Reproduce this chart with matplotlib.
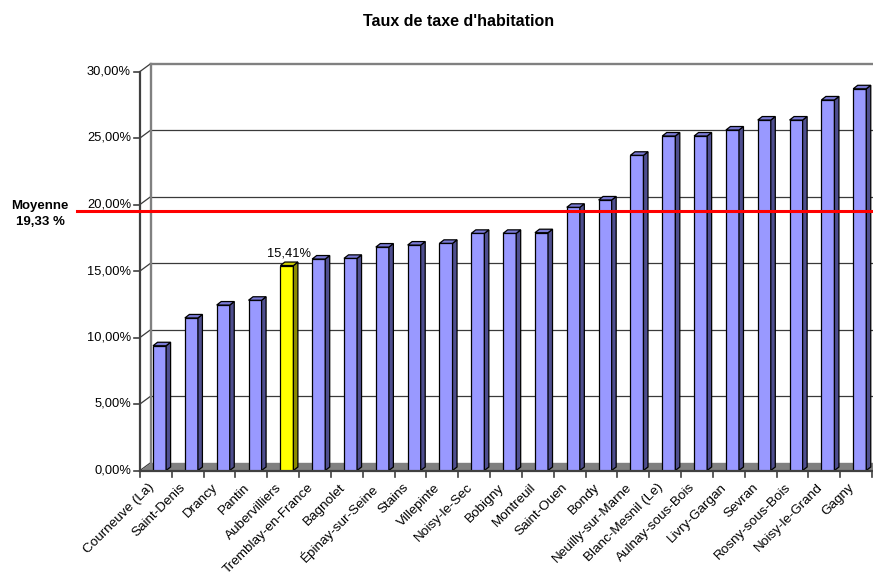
import matplotlib
matplotlib.use("Agg")
import matplotlib.pyplot as plt
import matplotlib.transforms as mtransforms
from matplotlib.patches import Polygon

plt.rcParams["font.family"] = ["Liberation Sans", "DejaVu Sans"]

# ---------------- data ----------------
communes = ["Courneuve (La)", "Saint-Denis", "Drancy", "Pantin", "Aubervilliers",
            "Tremblay-en-France", "Bagnolet", "Épinay-sur-Seine", "Stains", "Villepinte",
            "Noisy-le-Sec", "Bobigny", "Montreuil", "Saint-Ouen", "Bondy",
            "Neuilly-sur-Marne", "Blanc-Mesnil (Le)", "Aulnay-sous-Bois", "Livry-Gargan",
            "Sevran", "Rosny-sous-Bois", "Noisy-le-Grand", "Gagny"]
taux = [9.38, 11.47, 12.44, 12.80, 15.41, 15.90, 15.95, 16.80, 16.95, 17.08,
        17.83, 17.83, 17.88, 19.79, 20.34, 23.70, 25.15, 25.15, 25.60,
        26.35, 26.35, 27.86, 28.70]
highlight = "Aubervilliers"
moyenne = 19.33
yticks = [0, 5, 10, 15, 20, 25, 30]
ytick_labels = ["0,00%", "5,00%", "10,00%", "15,00%", "20,00%", "25,00%", "30,00%"]
title = "Taux de taxe d'habitation"

# ---------------- layout ----------------
W, H = 873, 577
fig = plt.figure(figsize=(W / 100, H / 100), dpi=100)
x0, x1, y0, y1 = 140, 872, 470.5, 71.5
ax = fig.add_axes([x0 / W, (H - y0) / H, (x1 - x0) / W, (y0 - y1) / H])
n = len(communes)
ax.set_xlim(0, n)
ax.set_ylim(yticks[0], yticks[-1])
ax.axis("off")

ux = n / (x1 - x0)            # data units per pixel (x)
uy = (yticks[-1] - yticks[0]) / (y0 - y1)   # data units per pixel (y)

wx, wy = 10.5 * ux, 7.7 * uy  # wall depth
bx, by = 4.5 * ux, 3.5 * uy   # bar depth
grid_dark = "#3a3a3a"
axis_col = "#404040"

# back wall gridlines
for yv in yticks:
    top = yv == yticks[-1]
    ax.plot([wx, n + 2], [yv + wy, yv + wy], color="#808080" if top else grid_dark,
            lw=1.7 if top else 0.9, clip_on=False, zorder=1)
    # side wall connectors
    ax.plot([0, wx], [yv, yv + wy], color=grid_dark, lw=0.9, clip_on=False, zorder=1)
# back wall left edge
ax.plot([wx, wx], [wy, yticks[-1] + wy], color="#808080", lw=1.7, clip_on=False, zorder=1)

# floor
ax.add_patch(Polygon([(0, 0), (n + 2, 0), (n + 2, wy), (wx, wy)], closed=True,
                     facecolor="#808080", edgecolor="none", zorder=2, clip_on=False))

# front y axis with ticks and labels
ax.plot([0, 0], [yticks[0], yticks[-1]], color=axis_col, lw=1.6, clip_on=False, zorder=3)
for yv, lab in zip(yticks, ytick_labels):
    ax.plot([-6 * ux, 0], [yv, yv], color=axis_col, lw=1.2, clip_on=False, zorder=3)
    ax.text(-9 * ux, yv, lab, ha="right", va="center", fontsize=9.3, color="black")

# bars
bw = 0.41
loff = 0.41
for i, (c, v) in enumerate(zip(communes, taux)):
    if c == highlight:
        fc, sc, tc = "#FFFF00", "#8C8C00", "#CCCC00"
    else:
        fc, sc, tc = "#9999FF", "#4E4E8F", "#7A7AD6"
    l = i + loff
    r = l + bw
    ax.bar(l, v, width=bw, align="edge", color=fc, edgecolor="black", lw=0.9, zorder=4)
    ax.add_patch(Polygon([(r, 0), (r + bx, by), (r + bx, v + by), (r, v)], closed=True,
                         facecolor=sc, edgecolor="black", lw=0.9, zorder=4, clip_on=False))
    ax.add_patch(Polygon([(l, v), (r, v), (r + bx, v + by), (l + bx, v + by)], closed=True,
                         facecolor=tc, edgecolor="black", lw=0.9, zorder=4, clip_on=False))
    if c == highlight:
        ax.annotate(f"{v:.2f}%".replace(".", ","), xy=(l + bw / 2 + bx / 2, v),
                    xytext=(0, 4), textcoords="offset points", ha="center", va="bottom",
                    fontsize=9.3)

# front x axis with ticks and labels
ax.plot([0, n], [0, 0], color=axis_col, lw=1.6, clip_on=False, zorder=5)
for i in range(n + 1):
    ax.plot([i, i], [0, -6 * uy], color=axis_col, lw=1.2, clip_on=False, zorder=5)
for i, c in enumerate(communes):
    ax.text(i + 0.5 - 8 * ux, -11 * uy, c, rotation=45, rotation_mode="anchor",
            ha="right", va="top", fontsize=9.7)

# average line (drawn slightly above its data position, as in the original)
trans = mtransforms.blended_transform_factory(fig.transFigure, ax.transData)
trans = trans + mtransforms.ScaledTranslation(0, 2 / 100, fig.dpi_scale_trans)
ax.plot([77 / W, 1.0], [moyenne, moyenne], color="#FF0000", lw=2.2, transform=trans,
        clip_on=False, zorder=6)
fig.text(40 / W, (H - 214) / H, f"Moyenne\n{moyenne:.2f} %".replace(".", ","),
         ha="center", va="center", fontsize=9.5, fontweight="bold", linespacing=1.45)

# title
fig.text(459 / W, (H - 21) / H, title, ha="center", va="center", fontsize=11.5,
         fontweight="bold")

fig.savefig("out.png", dpi=100)
